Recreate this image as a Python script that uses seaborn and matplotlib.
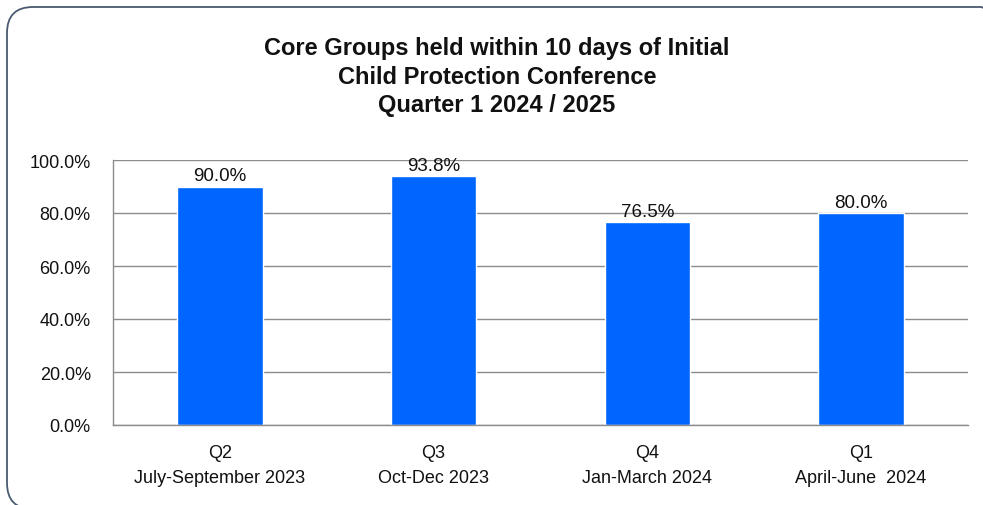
import matplotlib
matplotlib.use("Agg")
import matplotlib.pyplot as plt
from matplotlib.patches import FancyBboxPatch
from matplotlib.transforms import IdentityTransform
from matplotlib.ticker import PercentFormatter
import seaborn as sns
import pandas as pd

quarters = ["Q2\nJuly-September 2023", "Q3\nOct-Dec 2023", "Q4\nJan-March 2024", "Q1\nApril-June  2024"]
values = [90.0, 93.8, 76.5, 80.0]
title = "Core Groups held within 10 days of Initial\nChild Protection Conference\nQuarter 1 2024 / 2025"

sns.set_style("white")
plt.rcParams['font.family'] = ['Liberation Sans', 'DejaVu Sans']

df = pd.DataFrame({"quarter": quarters, "value": values})

fig = plt.figure(figsize=(9.83, 5.06), dpi=100)
ax = fig.add_axes([113/983, 80/506, 855/983, 265/506])

sns.barplot(data=df, x="quarter", y="value", color="#0066FF", width=0.4,
            saturation=1, ax=ax)
for c in ax.containers:
    ax.bar_label(c, labels=[f"{v:.1f}%" for v in values], padding=1.5,
                 fontsize=13.5, color="#111111")

ax.set_ylim(0, 100)
ax.set_yticks(range(0, 101, 20))
ax.yaxis.set_major_formatter(PercentFormatter(decimals=1))
ax.set_xlabel("")
ax.set_ylabel("")
ax.yaxis.grid(True, color="#8c8c8c", linewidth=1)
ax.set_axisbelow(True)
for s in ["top", "right"]:
    ax.spines[s].set_visible(False)
for s in ["left", "bottom"]:
    ax.spines[s].set_color("#8c8c8c")
    ax.spines[s].set_linewidth(1)
ax.tick_params(axis="both", length=0, labelsize=13, colors="#111111")
ax.tick_params(axis="x", pad=14)
ax.tick_params(axis="y", pad=16)
for lbl in ax.get_xticklabels():
    lbl.set_linespacing(1.6)

fig.text(497/983, 1 - 77/506, title, ha="center", va="center", fontsize=17,
         fontweight="bold", linespacing=1.28, color="#111111")

# rounded chart-area border, running off the right and bottom edges
border = FancyBboxPatch((7, -4), 1000, 502, boxstyle="round,pad=0,rounding_size=26",
                        fill=False, edgecolor="#4a5a70", linewidth=1.3)
border.set_transform(IdentityTransform())
fig.patches.append(border)

fig.savefig("out.png", dpi=100)
